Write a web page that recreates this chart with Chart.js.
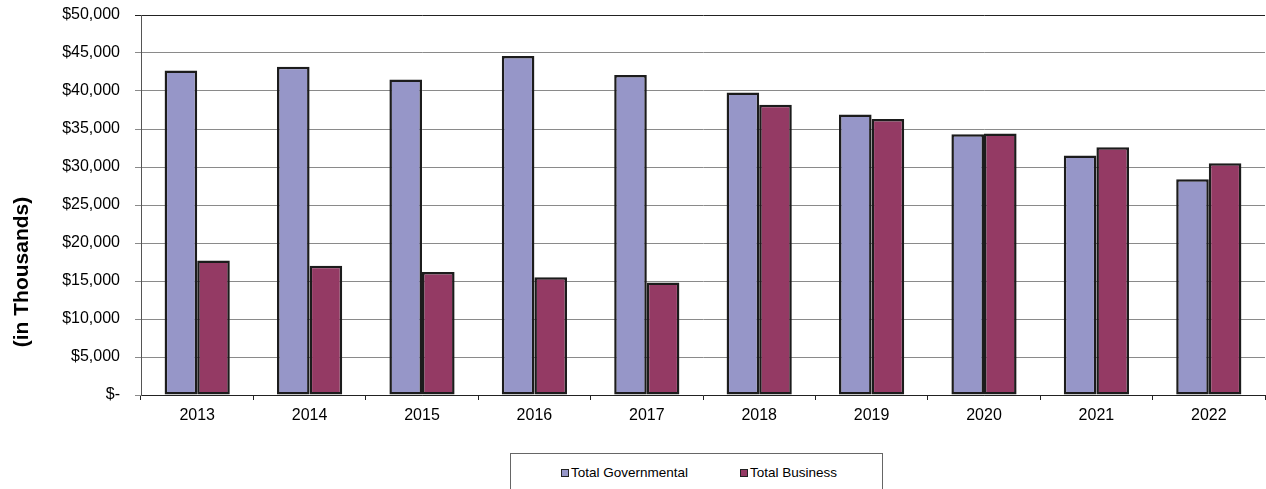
<!DOCTYPE html>
<html>
<head>
<meta charset="utf-8">
<script src="https://cdn.jsdelivr.net/npm/chart.js@4/dist/chart.umd.min.js"></script>
<style>
  html, body { margin: 0; padding: 0; background: #fff; overflow: hidden; }
  #wrap { position: relative; width: 1266px; height: 489px; }
  #chart { position: absolute; left: 0; top: 0; }
  #legend {
    position: absolute; left: 510px; top: 453px; width: 373px; height: 40px;
    border: 1px solid #666; box-sizing: border-box; background: #fff;
    font-family: "Liberation Sans", Arial, sans-serif; font-size: 13.5px; color: #000;
  }
  .item { position: absolute; top: 11px; white-space: nowrap; line-height: 16px; }
  .sw { display: inline-block; width: 6px; height: 6px; border: 1px solid #222; margin-right: 2px; vertical-align: 0px; }
</style>
</head>
<body>
<div id="wrap">
  <canvas id="chart" width="1266" height="489"></canvas>
  <div id="legend">
    <div class="item" style="left:50px"><span class="sw" style="background:#9696C8"></span>Total Governmental</div>
    <div class="item" style="left:229px"><span class="sw" style="background:#943A64"></span>Total Business</div>
  </div>
</div>
<script>
// Fiscal years shown along the x axis
const years = ['2013', '2014', '2015', '2016', '2017', '2018', '2019', '2020', '2021', '2022'];

// Amounts in thousands of dollars
const totalGovernmental = [42700, 43200, 41500, 44600, 42100, 39800, 36900, 34300, 31500, 28400];
const totalBusiness     = [17700, 17000, 16200, 15500, 14800, 38200, 36300, 34400, 32600, 30500];

// Value axis range
const yMin = 0;
const yMax = 50000;
const yStep = 5000;

const FONT = '"Liberation Sans", Arial, sans-serif';

function money(v) {
  if (v === 0) return '$-';
  return '$' + v.toLocaleString('en-US');
}

// Rotated y-axis caption
const yCaption = {
  id: 'yCaption',
  afterDraw(chart) {
    const ctx = chart.ctx;
    ctx.save();
    ctx.translate(22, 272);
    ctx.rotate(-Math.PI / 2);
    ctx.font = 'bold 21px ' + FONT;
    ctx.fillStyle = '#000';
    ctx.textAlign = 'center';
    ctx.textBaseline = 'middle';
    ctx.fillText('(in Thousands)', 0, 0);
    ctx.restore();
  }
};

new Chart(document.getElementById('chart'), {
  type: 'bar',
  data: {
    labels: years,
    datasets: [
      {
        label: 'Total Governmental',
        data: totalGovernmental,
        backgroundColor: '#9696C8',
        borderColor: '#1c1c1c',
        borderWidth: 2.5,
        borderSkipped: false,
        categoryPercentage: 0.58,
        barPercentage: 1.0
      },
      {
        label: 'Total Business',
        data: totalBusiness,
        backgroundColor: '#943A64',
        borderColor: '#1c1c1c',
        borderWidth: 2.5,
        borderSkipped: false,
        categoryPercentage: 0.58,
        barPercentage: 1.0
      }
    ]
  },
  options: {
    responsive: false,
    animation: false,
    devicePixelRatio: 1,
    layout: { padding: { top: 15, right: 1, left: 0, bottom: 0 } },
    plugins: {
      legend: { display: false },
      tooltip: { enabled: false }
    },
    scales: {
      x: {
        grid: {
          display: true,
          drawOnChartArea: false,
          drawTicks: true,
          tickLength: 5,
          color: '#222',
          offset: true
        },
        border: { display: true, color: '#222', width: 1 },
        ticks: {
          color: '#000',
          font: { family: FONT, size: 16 },
          padding: 6,
          maxRotation: 0
        },
        afterFit(scale) { scale.height = 94; }
      },
      y: {
        min: yMin,
        max: yMax,
        grid: {
          color: (c) => (c.tick && c.tick.value === yMax ? '#222' : '#8a8a8a'),
          lineWidth: 1,
          tickLength: 6
        },
        border: { display: true, color: '#555', width: 1 },
        ticks: {
          stepSize: yStep,
          color: '#000',
          font: { family: FONT, size: 16 },
          padding: 15,
          callback: (v) => money(v)
        },
        afterFit(scale) {
          scale.width = 141;
          scale.paddingTop = 0;
          scale.paddingBottom = 0;
        }
      }
    }
  },
  plugins: [yCaption]
});
</script>
</body>
</html>
